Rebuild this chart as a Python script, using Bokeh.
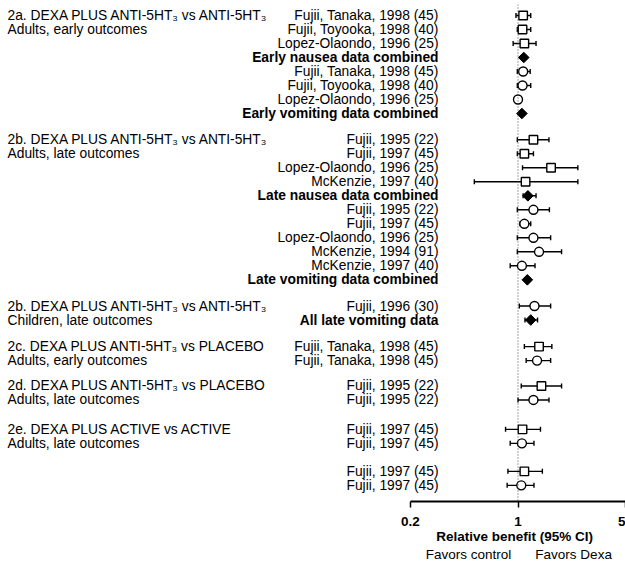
import math
from bokeh.plotting import figure
from bokeh.core.properties import value
from bokeh.models import (ColumnDataSource, Range1d, FixedTicker, Span, Whisker,
                          TeeHead, LabelSet, LogAxis, CustomJSTickFormatter)
from bokeh.embed import file_html
from bokeh.resources import INLINE

FONT = "Liberation Sans"
FS = "13.8px"

# ---------------- data ----------------
group_titles = [
    "2a. DEXA PLUS ANTI-5HT\u2083 vs ANTI-5HT\u2083",
    "2b. DEXA PLUS ANTI-5HT\u2083 vs ANTI-5HT\u2083",
    "2b. DEXA PLUS ANTI-5HT\u2083 vs ANTI-5HT\u2083",
    "2c. DEXA PLUS ANTI-5HT\u2083 vs PLACEBO",
    "2d. DEXA PLUS ANTI-5HT\u2083 vs PLACEBO",
    "2e. DEXA PLUS ACTIVE vs ACTIVE",
    "",
]
group_subtitles = [
    "Adults, early outcomes",
    "Adults, late outcomes",
    "Children, late outcomes",
    "Adults, early outcomes",
    "Adults, late outcomes",
    "Adults, late outcomes",
    "",
]

study = [
    "Fujii, Tanaka, 1998 (45)", "Fujii, Toyooka, 1998 (40)", "Lopez-Olaondo, 1996 (25)",
    "Early nausea data combined",
    "Fujii, Tanaka, 1998 (45)", "Fujii, Toyooka, 1998 (40)", "Lopez-Olaondo, 1996 (25)",
    "Early vomiting data combined",
    "Fujii, 1995 (22)", "Fujii, 1997 (45)", "Lopez-Olaondo, 1996 (25)", "McKenzie, 1997 (40)",
    "Late nausea data combined",
    "Fujii, 1995 (22)", "Fujii, 1997 (45)", "Lopez-Olaondo, 1996 (25)", "McKenzie, 1994 (91)",
    "McKenzie, 1997 (40)",
    "Late vomiting data combined",
    "Fujii, 1996 (30)", "All late vomiting data",
    "Fujii, Tanaka, 1998 (45)", "Fujii, Tanaka, 1998 (45)",
    "Fujii, 1995 (22)", "Fujii, 1995 (22)",
    "Fujii, 1997 (45)", "Fujii, 1997 (45)",
    "Fujii, 1997 (45)", "Fujii, 1997 (45)",
]
group = [0]*8 + [1]*11 + [2]*2 + [3]*2 + [4]*2 + [5]*2 + [6]*2
# N = nausea (square), V = vomiting (circle), C = combined (diamond)
kind = ["N", "N", "N", "C", "V", "V", "V", "C",
        "N", "N", "N", "N", "C", "V", "V", "V", "V", "V", "C",
        "V", "C",
        "N", "V",
        "N", "V",
        "N", "V",
        "N", "V"]
estimate = [1.08, 1.07, 1.10, 1.09, 1.08, 1.07, 1.00, 1.06,
            1.26, 1.10, 1.64, 1.12, 1.16, 1.26, 1.10, 1.26, 1.37, 1.06, 1.15,
            1.28, 1.21,
            1.37, 1.33,
            1.42, 1.26,
            1.07, 1.06,
            1.10, 1.05]
ci_low = [0.97, 0.99, 0.93, 1.05, 0.99, 0.99, 0.98, 1.03,
          0.99, 0.99, 1.07, 0.52, 1.08, 0.99, 1.03, 0.99, 0.99, 0.89, 1.11,
          1.02, 1.11,
          1.10, 1.13,
          1.05, 1.00,
          0.83, 0.89,
          0.86, 0.85]
ci_high = [1.21, 1.21, 1.31, 1.13, 1.20, 1.21, 1.02, 1.10,
           1.59, 1.26, 2.45, 2.45, 1.31, 1.60, 1.21, 1.63, 1.92, 1.29, 1.19,
           1.63, 1.34,
           1.66, 1.63,
           1.92, 1.59,
           1.40, 1.27,
           1.44, 1.27]

axis_ticks = [0.2, 1, 5]
axis_title = "Relative benefit (95% CI)"
axis_title_at = [0.95]
favor_labels = ["Favors control", "Favors Dexa"]
favor_at = [0.477, 2.30]

# ---------------- layout (rows) ----------------
group_gap = [0, 1.88, 1.87, 1.9, 1.81, 2.1, 2.0]   # extra spacing (in rows) before each group
row_y = []
cur = 0.0
for i, g in enumerate(group):
    if i > 0:
        cur += 1.0 if group[i - 1] == g else group_gap[g]
    row_y.append(cur)

first_row = {}
for y, g in zip(row_y, group):
    first_row.setdefault(g, y)

src = ColumnDataSource(dict(y=row_y, est=estimate, lo=ci_low, hi=ci_high,
                            label=study, kind=kind))

def sub(k):
    idx = [i for i, kk in enumerate(kind) if kk == k]
    return ColumnDataSource(dict(y=[row_y[i] for i in idx],
                                 est=[estimate[i] for i in idx],
                                 label=[study[i] for i in idx]))

# ---------------- figure ----------------
W, H = 625, 565
null_px = 517.5                       # pixel position of relative benefit 1
decade_px = (W - null_px) / math.log10(5)
x_start = 10 ** (-null_px / decade_px)

p = figure(width=W, height=H, x_axis_type="log",
           x_range=Range1d(x_start, 5.0), y_range=Range1d(34.714, -0.786),
           output_backend="svg", toolbar_location=None, y_axis_location=None,
           min_border_left=0, min_border_right=0, min_border_top=4,
           min_border_bottom=64)
p.outline_line_color = None
p.grid.visible = False
p.background_fill_color = "white"
p.border_fill_color = "white"

p.add_layout(Span(location=1, dimension="height", line_color="#444444",
                  line_width=1, line_dash="1 2"))

p.add_layout(Whisker(source=src, base="y", lower="lo", upper="hi", dimension="width",
                     line_color="black", line_width=1.4,
                     lower_head=TeeHead(size=5, line_width=1.4, line_color="black"),
                     upper_head=TeeHead(size=5, line_width=1.4, line_color="black")))

p.scatter("est", "y", source=sub("N"), marker="square", size=8.5,
          fill_color="white", line_color="black", line_width=1.4)
p.scatter("est", "y", source=sub("V"), marker="circle", size=9,
          fill_color="white", line_color="black", line_width=1.4)
p.scatter("est", "y", source=sub("C"), marker="square", size=7.5, angle=math.pi / 4,
          fill_color="black", line_color="black", line_width=1)

# study labels
for k, style in (("N", "normal"), ("V", "normal"), ("C", "bold")):
    p.add_layout(LabelSet(x=438, y="y", x_units="screen", text="label", source=sub(k),
                          text_align="right", text_baseline="middle",
                          text_font=value(FONT), text_font_size=FS,
                          text_font_style=style, text_color="black"))

# group headers
hy, ht = [], []
for g, (t, s) in enumerate(zip(group_titles, group_subtitles)):
    if t:
        hy += [first_row[g], first_row[g] + 1]
        ht += [t, s]
p.add_layout(LabelSet(x=7, y="y", x_units="screen", text="t",
                      source=ColumnDataSource(dict(y=hy, t=ht)),
                      text_align="left", text_baseline="middle",
                      text_font=value(FONT), text_font_size=FS, text_color="black"))

# main axis
ax = p.xaxis[0]
ax.ticker = FixedTicker(ticks=axis_ticks)
ax.bounds = (axis_ticks[0], axis_ticks[-1])
ax.formatter = CustomJSTickFormatter(code="return tick.toString();")
ax.axis_line_width = 1.8
ax.axis_line_color = "black"
ax.major_tick_in = 0
ax.major_tick_out = 6
ax.major_tick_line_width = 1.5
ax.minor_tick_in = 0
ax.minor_tick_out = 0
ax.major_label_standoff = 9
ax.major_label_text_font = FONT
ax.major_label_text_font_size = "13.5px"
ax.major_label_text_font_style = "bold"
ax.major_label_text_color = "black"


def text_axis(at, names, bold, standoff):
    return LogAxis(ticker=FixedTicker(ticks=at),
                   formatter=CustomJSTickFormatter(
                       args=dict(names=names),
                       code="return tick < 1 ? names[0] : names[names.length - 1];"),
                   axis_line_color=None, major_tick_line_color=None,
                   minor_tick_line_color=None, major_tick_out=0, major_tick_in=0,
                   minor_tick_out=0, minor_tick_in=0, major_label_standoff=standoff,
                   major_label_text_font=FONT, major_label_text_font_size="13.5px",
                   major_label_text_font_style="bold" if bold else "normal",
                   major_label_text_color="black")

p.add_layout(text_axis(axis_title_at, [axis_title], True, 0), "below")
p.add_layout(text_axis(favor_at, favor_labels, False, 0), "below")

open("out.html", "w").write(file_html(p, INLINE))
